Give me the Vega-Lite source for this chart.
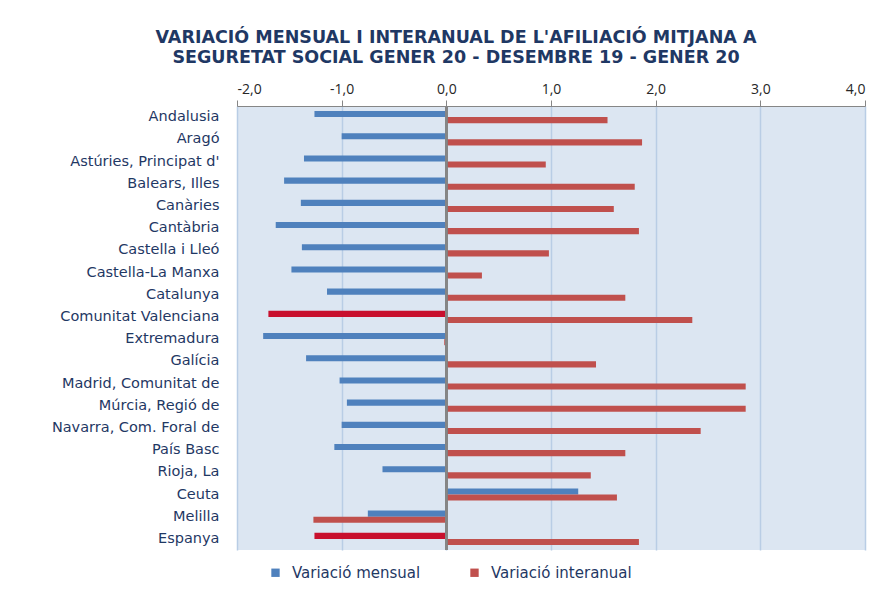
{
  "$schema": "https://vega.github.io/schema/vega-lite/v6.json",
  "autosize": {"type": "none"},
  "width": 628,
  "height": 444,
  "padding": {"left": 237, "top": 106, "right": 18, "bottom": 41},
  "background": "white",
  "title": {
    "text": ["VARIACIÓ MENSUAL I INTERANUAL DE L'AFILIACIÓ MITJANA A", "SEGURETAT SOCIAL GENER 20 - DESEMBRE 19 - GENER 20"],
    "font": "DejaVu Sans",
    "fontSize": 17.5,
    "fontWeight": "bold",
    "color": "#1F3864",
    "anchor": "middle",
    "frame": "group",
    "dx": -95,
    "offset": 16,
    "lineHeight": 20
  },
  "data": {
    "values": [
      {"regio": "Andalusia", "serie": "Variació mensual", "valor": -1.26},
      {"regio": "Andalusia", "serie": "Variació interanual", "valor": 1.54},
      {"regio": "Aragó", "serie": "Variació mensual", "valor": -1.00},
      {"regio": "Aragó", "serie": "Variació interanual", "valor": 1.87},
      {"regio": "Astúries, Principat d'", "serie": "Variació mensual", "valor": -1.36},
      {"regio": "Astúries, Principat d'", "serie": "Variació interanual", "valor": 0.95},
      {"regio": "Balears, Illes", "serie": "Variació mensual", "valor": -1.55},
      {"regio": "Balears, Illes", "serie": "Variació interanual", "valor": 1.80},
      {"regio": "Canàries", "serie": "Variació mensual", "valor": -1.39},
      {"regio": "Canàries", "serie": "Variació interanual", "valor": 1.60},
      {"regio": "Cantàbria", "serie": "Variació mensual", "valor": -1.63},
      {"regio": "Cantàbria", "serie": "Variació interanual", "valor": 1.84},
      {"regio": "Castella  i Lleó", "serie": "Variació mensual", "valor": -1.38},
      {"regio": "Castella  i Lleó", "serie": "Variació interanual", "valor": 0.98},
      {"regio": "Castella-La Manxa", "serie": "Variació mensual", "valor": -1.48},
      {"regio": "Castella-La Manxa", "serie": "Variació interanual", "valor": 0.34},
      {"regio": "Catalunya", "serie": "Variació mensual", "valor": -1.14},
      {"regio": "Catalunya", "serie": "Variació interanual", "valor": 1.71},
      {"regio": "Comunitat Valenciana", "serie": "Variació mensual", "valor": -1.70},
      {"regio": "Comunitat Valenciana", "serie": "Variació interanual", "valor": 2.35},
      {"regio": "Extremadura", "serie": "Variació mensual", "valor": -1.75},
      {"regio": "Extremadura", "serie": "Variació interanual", "valor": -0.02},
      {"regio": "Galícia", "serie": "Variació mensual", "valor": -1.34},
      {"regio": "Galícia", "serie": "Variació interanual", "valor": 1.43},
      {"regio": "Madrid, Comunitat de", "serie": "Variació mensual", "valor": -1.02},
      {"regio": "Madrid, Comunitat de", "serie": "Variació interanual", "valor": 2.86},
      {"regio": "Múrcia, Regió de", "serie": "Variació mensual", "valor": -0.95},
      {"regio": "Múrcia, Regió de", "serie": "Variació interanual", "valor": 2.86},
      {"regio": "Navarra, Com. Foral de", "serie": "Variació mensual", "valor": -1.00},
      {"regio": "Navarra, Com. Foral de", "serie": "Variació interanual", "valor": 2.43},
      {"regio": "País Basc", "serie": "Variació mensual", "valor": -1.07},
      {"regio": "País Basc", "serie": "Variació interanual", "valor": 1.71},
      {"regio": "Rioja, La", "serie": "Variació mensual", "valor": -0.61},
      {"regio": "Rioja, La", "serie": "Variació interanual", "valor": 1.38},
      {"regio": "Ceuta", "serie": "Variació mensual", "valor": 1.26},
      {"regio": "Ceuta", "serie": "Variació interanual", "valor": 1.63},
      {"regio": "Melilla", "serie": "Variació mensual", "valor": -0.75},
      {"regio": "Melilla", "serie": "Variació interanual", "valor": -1.27},
      {"regio": "Espanya", "serie": "Variació mensual", "valor": -1.26},
      {"regio": "Espanya", "serie": "Variació interanual", "valor": 1.84}
    ]
  },
  "layer": [
    {
      "mark": {"type": "bar"},
      "encoding": {
        "y": {
          "field": "regio",
          "type": "nominal",
          "sort": null,
          "scale": {"paddingInner": 0.45, "paddingOuter": 0.225},
          "axis": {
            "title": null,
            "ticks": false,
            "domain": false,
            "labelPadding": 18,
            "labelFont": "DejaVu Sans",
            "labelFontSize": 14.5,
            "labelColor": "#1F3864",
            "labelLimit": 300
          }
        },
        "yOffset": {
          "field": "serie",
          "type": "nominal",
          "sort": ["Variació mensual", "Variació interanual"]
        },
        "x": {
          "field": "valor",
          "type": "quantitative",
          "scale": {"domain": [-2, 4], "nice": false},
          "axis": {
            "orient": "top",
            "title": null,
            "values": [-2, -1, 0, 1, 2, 3, 4],
            "labelExpr": "(datum.value < 0 ? '-' : '') + replace(format(abs(datum.value), '.1f'), '.', ',')",
            "labelFont": "Open Sans",
            "labelFontSize": 14,
            "labelColor": "#262626",
            "labelPadding": 4,
            "tickSize": 6,
            "tickColor": "#868686",
            "domainColor": "#868686",
            "grid": true,
            "gridColor": "#B9CDE5",
            "gridWidth": 1.5
          }
        },
        "color": {
          "condition": {
            "test": "datum.serie === 'Variació mensual' && (datum.regio === 'Comunitat Valenciana' || datum.regio === 'Espanya')",
            "value": "#C8102E"
          },
          "field": "serie",
          "type": "nominal",
          "scale": {"domain": ["Variació mensual", "Variació interanual"], "range": ["#4F81BD", "#C0504D"]},
          "legend": {
            "title": null,
            "orient": "none",
            "direction": "horizontal",
            "legendX": 31,
            "legendY": 459,
            "symbolType": "square",
            "symbolSize": 70,
            "symbolStrokeWidth": 0,
            "labelFont": "DejaVu Sans",
            "labelFontSize": 15,
            "labelColor": "#1F3864",
            "columnPadding": 46,
            "labelOffset": 9
          }
        }
      }
    },
    {
      "mark": {"type": "rule", "color": "#868686", "strokeWidth": 1.5},
      "encoding": {"x": {"datum": 0}}
    }
  ],
  "config": {
    "view": {"fill": "#DCE6F2", "stroke": null}
  }
}
